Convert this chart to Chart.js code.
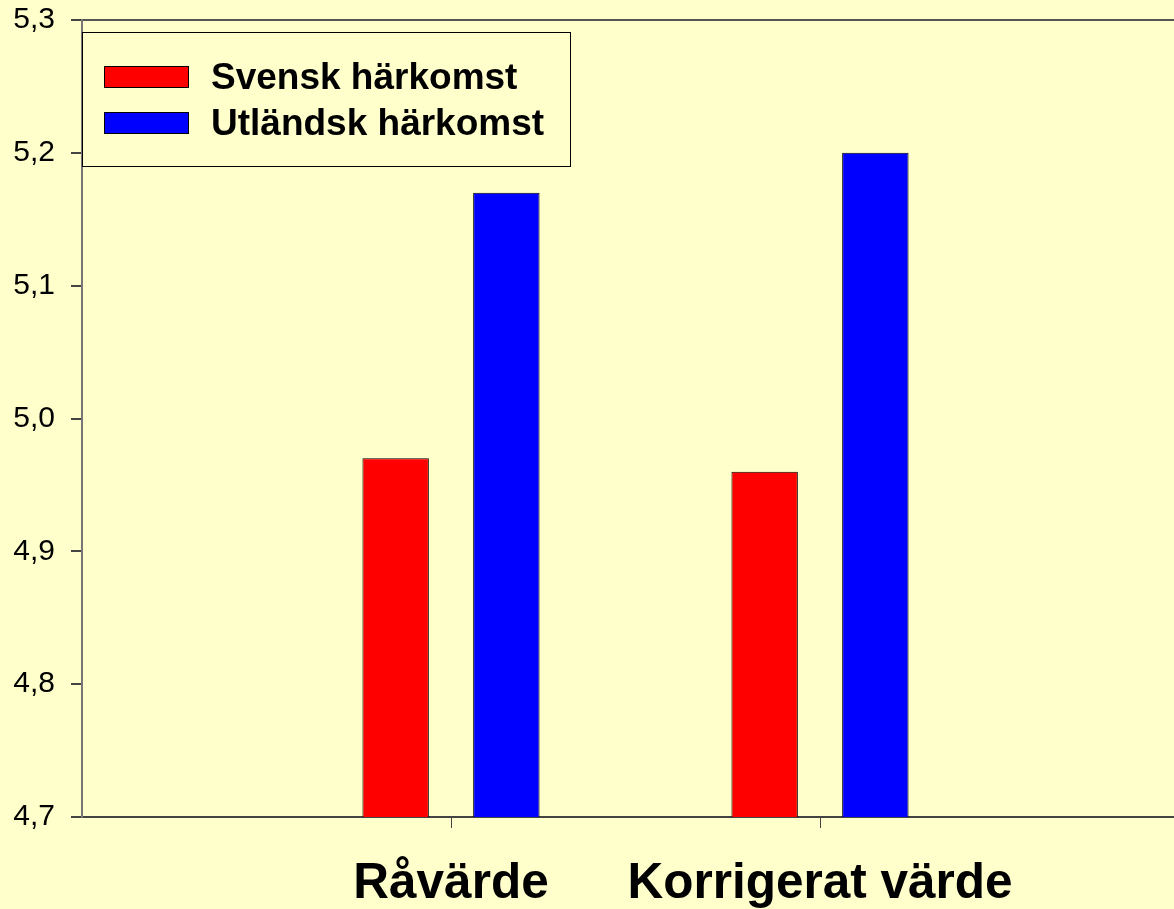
<!DOCTYPE html>
<html>
<head>
<meta charset="utf-8">
<script src="https://cdn.jsdelivr.net/npm/chart.js@4/dist/chart.umd.min.js"></script>
<style>
  html, body { margin: 0; padding: 0; background: #FFFFCC; overflow: hidden; }
  canvas { display: block; }
</style>
</head>
<body>
<canvas id="chart" width="1190" height="909"></canvas>
<script>
const categories = ["Råvärde", "Korrigerat värde"];
const svensk = [4.97, 4.96];
const utlandsk = [5.17, 5.20];
const yTicks = [4.7, 4.8, 4.9, 5.0, 5.1, 5.2, 5.3];

// Excel-style axis: one empty slot on each side, bars sit on the tick marks
const labels = ["", ...categories, ""];
const pad = arr => [null, ...arr, null];

const legendBox = {
  id: "legendBox",
  afterDraw(chart) {
    const ctx = chart.ctx;
    ctx.save();
    ctx.fillStyle = "#FFFFCC";
    ctx.fillRect(82, 32, 489, 135);
    ctx.strokeStyle = "#000";
    ctx.lineWidth = 1;
    ctx.strokeRect(82.5, 32.5, 488, 134);
    ctx.font = "bold 37px 'Liberation Sans', Arial, sans-serif";
    ctx.textBaseline = "middle";
    chart.data.datasets.forEach((ds, i) => {
      const y = 66 + i * 46;
      ctx.fillStyle = ds.backgroundColor;
      ctx.fillRect(104, y, 85, 22);
      ctx.strokeStyle = "#000";
      ctx.strokeRect(104.5, y + 0.5, 84, 21);
      ctx.fillStyle = "#000";
      ctx.fillText(ds.label, 211, y + 13);
    });
    ctx.restore();
  }
};

new Chart(document.getElementById("chart"), {
  type: "bar",
  data: {
    labels: labels,
    datasets: [
      {
        label: "Svensk härkomst",
        data: pad(svensk),
        backgroundColor: "#FF0000",
        borderColor: "#000",
        borderWidth: 1
      },
      {
        label: "Utländsk härkomst",
        data: pad(utlandsk),
        backgroundColor: "#0000FF",
        borderColor: "#000",
        borderWidth: 1
      }
    ]
  },
  options: {
    responsive: false,
    animation: false,
    categoryPercentage: 0.6,
    barPercentage: 0.6,
    layout: { padding: { top: 20, right: 1, left: 0, bottom: 0 } },
    plugins: {
      legend: { display: false },
      tooltip: { enabled: false }
    },
    scales: {
      x: {
        offset: false,
        border: { color: "#444", width: 2 },
        grid: {
          offset: false,
          drawOnChartArea: false,
          tickLength: 11,
          tickColor: ctx => (labels[ctx.index] ? "#444" : "transparent")
        },
        ticks: {
          autoSkip: false,
          maxRotation: 0,
          padding: 27,
          color: "#000",
          font: { family: "'Liberation Sans', Arial, sans-serif", size: 49.5, weight: "bold" }
        },
        afterFit(scale) {
          scale.height = 92;
          scale.paddingLeft = 0;
          scale.paddingRight = 0;
        }
      },
      y: {
        min: yTicks[0],
        max: yTicks[yTicks.length - 1],
        afterBuildTicks(scale) { scale.ticks = yTicks.map(v => ({ value: v })); },
        border: { color: "#777", width: 2 },
        grid: {
          tickLength: 11,
          tickColor: "#444",
          lineWidth: 2,
          color: ctx => (ctx.tick && ctx.tick.value === yTicks[yTicks.length - 1] ? "#555" : "transparent")
        },
        ticks: {
          padding: 16,
          color: "#000",
          font: { family: "'Liberation Sans', Arial, sans-serif", size: 30 },
          callback: v => Number(v).toFixed(1).replace(".", ",")
        },
        afterFit(scale) {
          scale.width = 82;
          scale.paddingTop = 0;
          scale.paddingBottom = 0;
        }
      }
    }
  },
  plugins: [legendBox]
});
</script>
</body>
</html>
